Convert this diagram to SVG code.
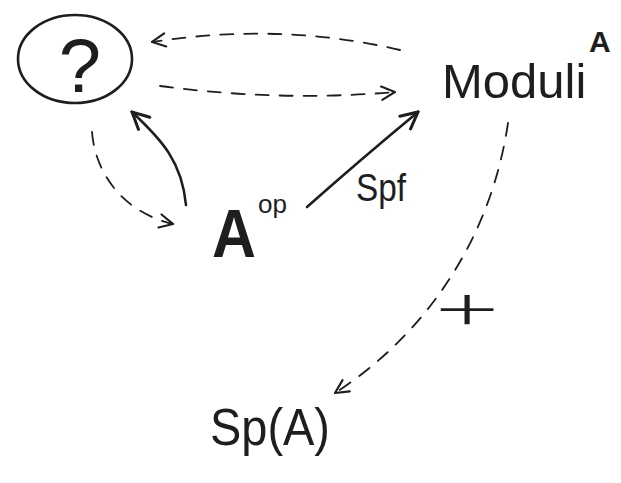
<svg xmlns="http://www.w3.org/2000/svg" width="621" height="483" viewBox="0 0 621 483">
<style>
.ink{fill:none;stroke:#1e1e1e;stroke-linecap:round;stroke-linejoin:round}
.solid{stroke-width:2.6}
.dash{stroke-width:1.8;stroke-dasharray:13 11}
.lbl{font-family:"Liberation Sans",Arial,sans-serif;fill:#1e1e1e}
.thin{font-family:"Inter","Noto Sans",sans-serif;font-weight:160;fill:#1e1e1e}
</style>
<defs>
<marker id="open" viewBox="0 0 12 12" refX="11" refY="6" markerWidth="16" markerHeight="16" markerUnits="userSpaceOnUse" orient="auto">
<path d="M1,1 L11,6 L1,11" fill="none" stroke="#1e1e1e" stroke-width="1.6" stroke-linecap="round"/>
</marker>
<marker id="openB" viewBox="0 0 12 12" refX="11" refY="6" markerWidth="20" markerHeight="20" markerUnits="userSpaceOnUse" orient="auto">
<path d="M1,1 L11,6 L1,11" fill="none" stroke="#1e1e1e" stroke-width="1.8" stroke-linecap="round"/>
</marker>
</defs>
<rect width="621" height="483" fill="#ffffff"/>
<g id="node-question">
<ellipse class="ink solid" cx="75" cy="59" rx="57" ry="44"/>
<text class="lbl" x="80" y="92" font-size="76" text-anchor="middle">?</text>
</g>
<g id="node-moduli">
<text class="lbl" x="442" y="98" font-size="49">Moduli</text>
<text class="lbl" x="589" y="52" font-size="30" font-weight="bold">A</text>
</g>
<g id="node-aop">
<text class="lbl" x="212" y="257" font-size="68" font-weight="bold" textLength="44" lengthAdjust="spacingAndGlyphs">A</text>
<text class="lbl" x="258" y="213" font-size="26">op</text>
</g>
<g id="node-spa">
<text class="lbl" x="210" y="445" font-size="52" textLength="120" lengthAdjust="spacingAndGlyphs">Sp(A)</text>
</g>
<g id="connectors">
<path class="ink dash" d="M400 50 Q280 22 152 42" marker-end="url(#open)"/>
<path class="ink dash" d="M160 86 Q280 102 395 92" marker-end="url(#open)"/>
<path class="ink dash" d="M92 132 C95 172 122 212 173 224" marker-end="url(#open)"/>
<path class="ink solid" d="M186 205 C182 162 162 140 132 112" marker-end="url(#openB)"/>
<path class="ink solid" d="M307 207 Q360 160 418 112" marker-end="url(#openB)"/>
<path class="ink dash" d="M508 123 C492 232 432 330 335 393" marker-end="url(#open)"/>
<text class="lbl" x="356" y="201" font-size="38" textLength="50" lengthAdjust="spacingAndGlyphs">Spf</text>
<text class="thin" transform="translate(467,329) scale(1.22,0.68)" font-size="100" text-anchor="middle">+</text>
</g>
</svg>
